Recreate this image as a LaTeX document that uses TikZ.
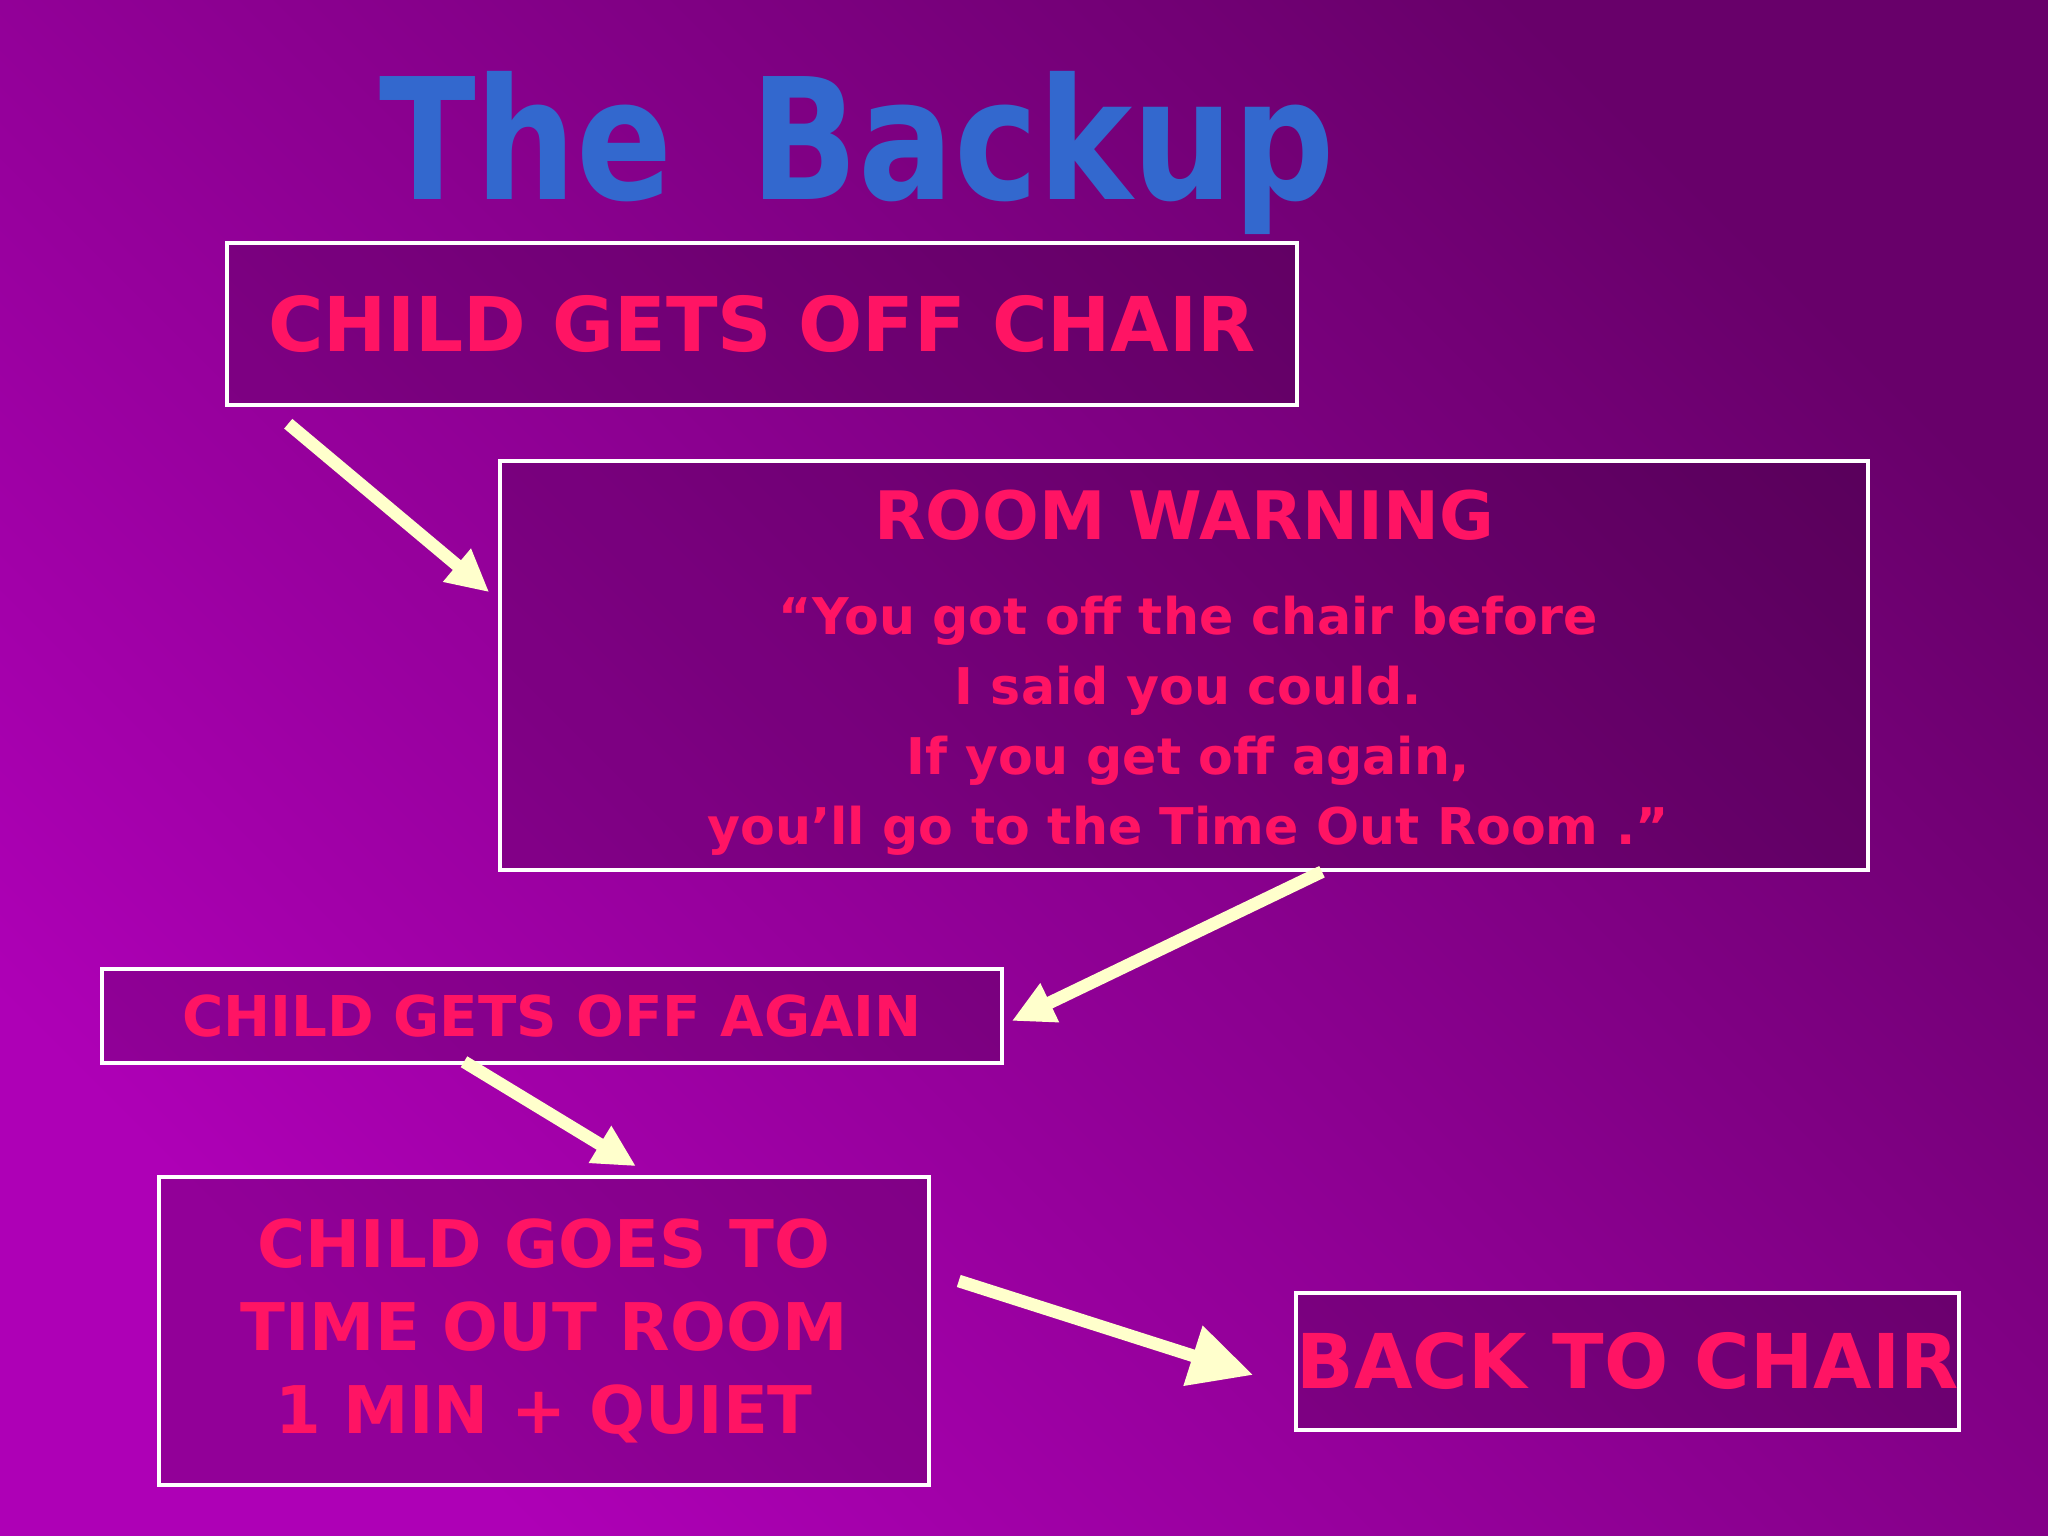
\documentclass[tikz,border=0pt]{standalone}
\usepackage{graphicx}
\usepackage{fontspec}
\setmainfont{DejaVu Sans}
\usetikzlibrary{arrows.meta}
\definecolor{bgbright}{RGB}{174,0,182}
\definecolor{bgdark}{RGB}{104,0,106}
\definecolor{hotpink}{RGB}{255,20,100}
\definecolor{titleblue}{RGB}{51,104,206}
\definecolor{cream}{RGB}{255,255,204}

\begin{document}
\begin{tikzpicture}[
  slidebox/.style={draw=white, line width=1pt, fill=black, fill opacity=0.16,
    text opacity=1, text=hotpink, font=\bfseries, align=center, inner sep=0pt},
  pinktext/.style={text=hotpink, font=\bfseries, align=center, inner sep=0pt},
  yarrow/.style={draw=cream, line width=3.6pt, -{Triangle[length=12pt,width=11.5pt]}},
  bighead/.style={-{Triangle[length=18pt,width=17pt]}},
]
  \useasboundingbox (0,0) rectangle (20.48,15.36);
  \shade[left color=bgbright, right color=bgdark, shading angle=135] (0,0) rectangle (20.48,15.36);

  % title
  \node[anchor=base, text=titleblue, font=\bfseries\fontsize{48}{56}\selectfont, inner sep=0pt]
    (title) at (8.57,13.36) {\scalebox{0.84}[1]{The\hspace{0.55em}Backup}};

  % boxes
  \node[slidebox, minimum width=10.70cm, minimum height=1.62cm] (chair) at (7.62,12.12)
    {\fontsize{21.5}{26}\selectfont CHILD GETS OFF CHAIR};
  \node[slidebox, minimum width=13.68cm, minimum height=4.09cm] (warn) at (11.84,8.705) {};
  \node[pinktext, anchor=base] (warnhead) at ([yshift=-0.80cm]warn.north)
    {\fontsize{19}{23}\selectfont ROOM WARNING};
  \node[pinktext, font=\bfseries\fontsize{14.4}{19.9}\selectfont] (quote) at (11.88,8.10)
    {“You got off the chair before\\ I said you could.\\ If you get off again,\\
     you’ll go to the Time Out Room .”};
  \node[slidebox, minimum width=9.00cm, minimum height=0.94cm] (again) at (5.52,5.20)
    {\fontsize{16}{19}\selectfont CHILD GETS OFF AGAIN};
  \node[slidebox, minimum width=7.70cm, minimum height=3.08cm,
    font=\bfseries\fontsize{18.7}{23.5}\selectfont] (timeout) at (5.44,2.05)
    {CHILD GOES TO\\ TIME OUT ROOM\\ 1 MIN + QUIET};
  \node[slidebox, minimum width=6.63cm, minimum height=1.37cm] (back) at (16.275,1.745)
    {\fontsize{21.5}{26}\selectfont BACK TO CHAIR};

  % arrows
  \draw[yarrow] ([xshift=0.63cm,yshift=-0.17cm]chair.south west)
    -- ([xshift=-0.09cm,yshift=-1.33cm]warn.north west);
  \draw[yarrow] ([xshift=1.38cm]warn.south) -- ([xshift=0.08cm,yshift=-0.05cm]again.east);
  \draw[yarrow] ([xshift=-0.88cm,yshift=0.03cm]again.south)
    -- ([xshift=0.92cm,yshift=0.09cm]timeout.north);
  \draw[yarrow, bighead] ([xshift=0.28cm,yshift=0.50cm]timeout.east)
    -- ([xshift=-0.41cm,yshift=-0.135cm]back.west);
\end{tikzpicture}
\end{document}
